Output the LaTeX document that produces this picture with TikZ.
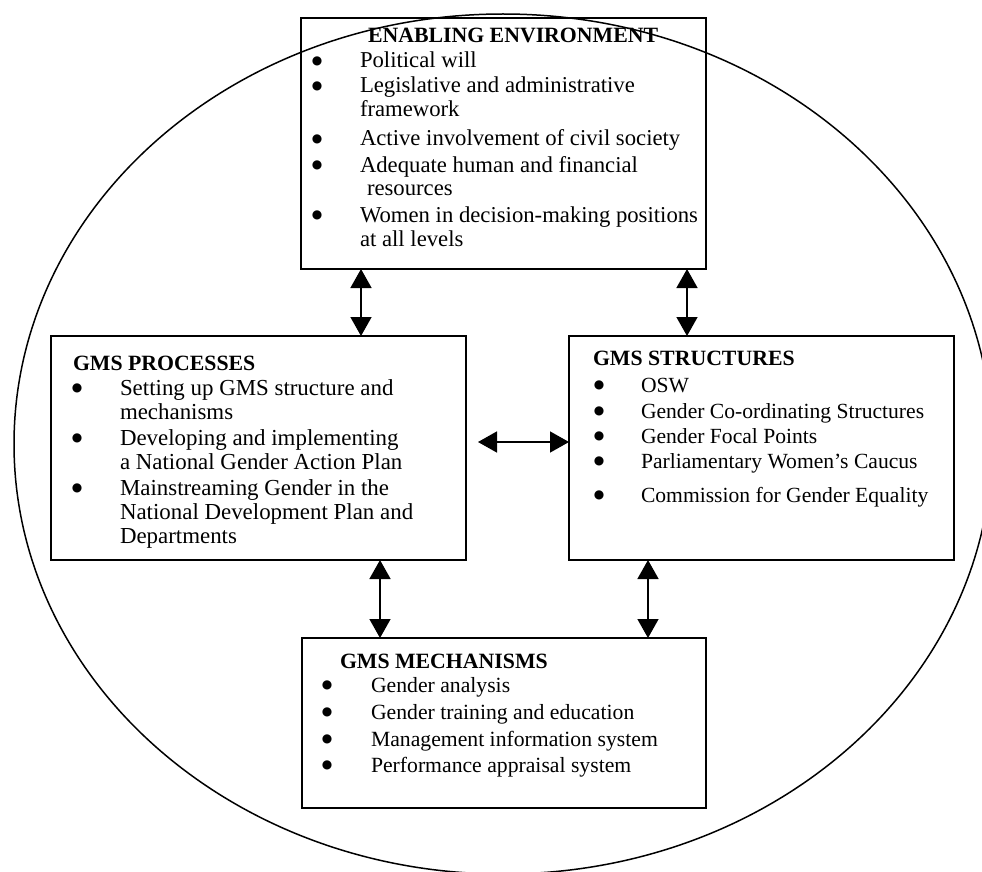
\documentclass[tikz,border=0pt]{standalone}
\usepackage{fontspec}
\setmainfont{Liberation Serif}
\newfontfamily\dejavu{DejaVu Sans}
\usetikzlibrary{arrows.meta}
\tikzset{
  frame/.style={draw, line width=1.5pt, anchor=north west, inner sep=0pt, outer sep=0pt},
  lineL/.style={anchor=base west, inner sep=0pt, outer sep=0pt},
  bulL/.style={anchor=base, inner sep=0pt, outer sep=0pt, font=\dejavu\fontsize{12}{12}\selectfont},
  ttl/.style={lineL, font=\fontsize{21.8}{25}\selectfont\bfseries},
  fenv/.style={font=\fontsize{22.7}{25}\selectfont},
  fproc/.style={font=\fontsize{22.9}{25}\selectfont},
  fstr/.style={font=\fontsize{21.6}{25}\selectfont},
  fmech/.style={font=\fontsize{21.7}{25}\selectfont},
  link/.style={line width=1.5pt, {Triangle[length=19pt,width=21pt]}-{Triangle[length=19pt,width=21pt]}},
}
\newcommand\txtline[5]{\node[lineL,#1] (#2) at (#3,#4) {#5};}
\newcommand\bulpt[4]{\node[bulL] (#2) at (#3,#4-3.8) {●};}
\begin{document}
\begin{tikzpicture}[x=1pt,y=-1pt]
\useasboundingbox (0,0) rectangle (982,872);
\begin{scope}
\clip (0,0) rectangle (982,872);
\draw[line width=1.5pt] (503,444) ellipse [x radius=489pt, y radius=430pt];
\end{scope}

% boxes
\node[frame, minimum width=405pt, minimum height=251pt] (env) at (301,18) {};
\node[frame, minimum width=415pt, minimum height=224pt] (proc) at (51,336) {};
\node[frame, minimum width=385pt, minimum height=224pt] (struct) at (569,336) {};
\node[frame, minimum width=404pt, minimum height=170pt] (mech) at (302,638) {};

% enabling environment
\node[ttl] (envT) at (368,43) {ENABLING ENVIRONMENT};
\bulpt{fenv}{eb1}{317}{68}
\bulpt{fenv}{eb2}{317}{93}
\bulpt{fenv}{eb3}{317}{146}
\bulpt{fenv}{eb4}{317}{172}
\bulpt{fenv}{eb5}{317}{222}
\txtline{fenv}{e1}{360}{68}{Political will}
\txtline{fenv}{e2}{360}{93}{Legislative and administrative}
\txtline{fenv}{e3}{360}{117}{framework}
\txtline{fenv}{e4}{360}{146}{Active involvement of civil society}
\txtline{fenv}{e5}{360}{172}{Adequate human and financial}
\txtline{fenv}{e6}{367}{195}{resources}
\txtline{fenv}{e7}{360}{222}{Women in decision-making positions}
\txtline{fenv}{e8}{360}{246}{at all levels}

% processes
\node[ttl] (procT) at (73,370) {GMS PROCESSES};
\bulpt{fproc}{pb1}{77}{395}
\bulpt{fproc}{pb2}{77}{445}
\bulpt{fproc}{pb3}{77}{495}
\txtline{fproc}{p1}{120}{395}{Setting up GMS structure and}
\txtline{fproc}{p2}{120}{419}{mechanisms}
\txtline{fproc}{p3}{120}{445}{Developing and implementing}
\txtline{fproc}{p4}{120}{469}{a National Gender Action Plan}
\txtline{fproc}{p5}{120}{495}{Mainstreaming Gender in the}
\txtline{fproc}{p6}{120}{519}{National Development Plan and}
\txtline{fproc}{p7}{120}{543}{Departments}

% structures
\node[ttl] (strT) at (593,365) {GMS STRUCTURES};
\bulpt{fstr}{sb1}{599}{392}
\bulpt{fstr}{sb2}{599}{418}
\bulpt{fstr}{sb3}{599}{443}
\bulpt{fstr}{sb4}{599}{468}
\bulpt{fstr}{sb5}{599}{502}
\txtline{fstr}{s1}{641}{392}{OSW}
\txtline{fstr}{s2}{641}{418}{Gender Co-ordinating Structures}
\txtline{fstr}{s3}{641}{443}{Gender Focal Points}
\txtline{fstr}{s4}{641}{468}{Parliamentary Women’s Caucus}
\txtline{fstr}{s5}{641}{502}{Commission for Gender Equality}

% mechanisms
\node[ttl] (mechT) at (340,668) {GMS MECHANISMS};
\bulpt{fmech}{mb1}{327}{692}
\bulpt{fmech}{mb2}{327}{719}
\bulpt{fmech}{mb3}{327}{746}
\bulpt{fmech}{mb4}{327}{772}
\txtline{fmech}{m1}{371}{692}{Gender analysis}
\txtline{fmech}{m2}{371}{719}{Gender training and education}
\txtline{fmech}{m3}{371}{746}{Management information system}
\txtline{fmech}{m4}{371}{772}{Performance appraisal system}

% connectors
\coordinate (c1) at (361,0);
\coordinate (c2) at (687,0);
\coordinate (c3) at (380,0);
\coordinate (c4) at (648,0);
\coordinate (hy) at (0,442);
\draw[link] (env.south -| c1) -- (proc.north -| c1);
\draw[link] (env.south -| c2) -- (struct.north -| c2);
\path (proc.east |- hy) ++(12,0) coordinate (hl);
\draw[link] (hl) -- (struct.west |- hy);
\draw[link] (proc.south -| c3) -- (mech.north -| c3);
\draw[link] (struct.south -| c4) -- (mech.north -| c4);
\end{tikzpicture}
\end{document}
